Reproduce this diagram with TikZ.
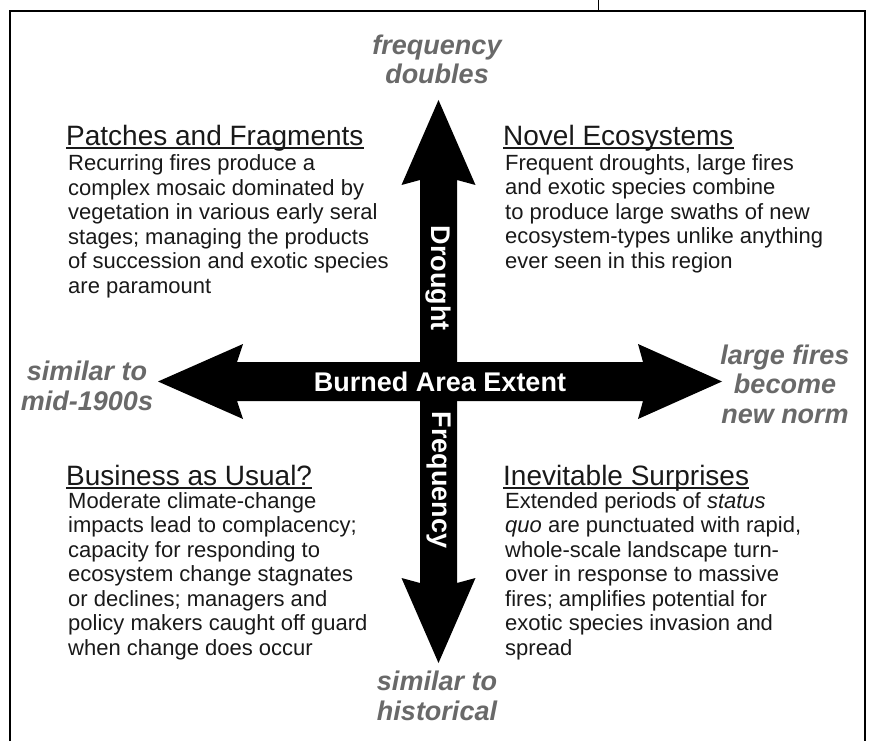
\documentclass[tikz,border=0pt]{standalone}
\usepackage{fontspec}
\setmainfont{Liberation Sans}
\definecolor{endgray}{RGB}{105,105,105}
\definecolor{bodyink}{RGB}{25,25,25}
\begin{document}
\begin{tikzpicture}[x=1pt, y=-1pt,
    endlbl/.style={font=\fontsize{27}{29.5}\selectfont\bfseries\itshape, text=endgray, align=center, inner sep=0pt, anchor=base},
    quadttl/.style={font=\fontsize{28}{30}\selectfont, text=bodyink, inner sep=0pt, anchor=base west},
    quadtxt/.style={font=\fontsize{22}{24.5}\selectfont, text=bodyink, align=left, inner sep=0pt, anchor=base west},
    axistxt/.style={font=\fontsize{27}{30}\selectfont\bfseries, text=white, inner sep=0pt}
]
    \useasboundingbox (0,0) rectangle (869,741);
    % frame
    \draw[line width=1.6pt] (10,741) -- (10,11) -- (865,11) -- (865,741);
    \draw[line width=0.9pt] (598,0) -- (598,11);
    % the two arrows
    \fill (158,381.5) -- (243,344) -- (237,362) -- (643,362) -- (638,344) -- (722,381.5)
        -- (638,419) -- (643,401) -- (237,401) -- (243,419) -- cycle;
    \fill (438.5,100) -- (475.5,185) -- (457,180) -- (457,583) -- (475.5,578) -- (438.5,663)
        -- (401.5,578) -- (420,583) -- (420,180) -- (401.5,185) -- cycle;
    \node[axistxt] (extent) at (440,382) {Burned Area Extent};
    \node[axistxt, rotate=-90] (drought) at (438.5,278) {Drought};
    \node[axistxt, rotate=-90] (freq) at (438.5,480) {Frequency};
    % ends of the axes (anchored at the baseline of the last line)
    \node[endlbl] (up) at (437,84) {frequency\\doubles};
    \node[endlbl] (left) at (87,410) {similar to\\mid-1900s};
    \node[endlbl] (right) at (785,423) {large fires\\become\\new norm};
    \node[endlbl] (down) at (437,720) {similar to\\historical};
    % quadrants (text anchored at the baseline of the last line)
    \node[quadttl] (pf) at (66,145) {Patches and Fragments};
    \node[quadtxt] (pftxt) at (68,293) {Recurring fires produce a\\complex mosaic dominated by\\vegetation in various early seral\\stages; managing the products\\of succession and exotic species\\are paramount};
    \node[quadttl] (ne) at (503,145) {Novel Ecosystems};
    \node[quadtxt] (netxt) at (505,268) {Frequent droughts, large fires\\and exotic species combine\\to produce large swaths of new\\ecosystem-types unlike anything\\ever seen in this region};
    \node[quadttl] (bu) at (66,485) {Business as Usual?};
    \node[quadtxt] (butxt) at (68,655) {Moderate climate-change\\impacts lead to complacency;\\capacity for responding to\\ecosystem change stagnates\\or declines; managers and\\policy makers caught off guard\\when change does occur};
    \node[quadttl] (is) at (503,485) {Inevitable Surprises};
    \node[quadtxt] (istxt) at (505,655) {Extended periods of \textit{status}\\\textit{quo} are punctuated with rapid,\\whole-scale landscape turn-\\over in response to massive\\fires; amplifies potential for\\exotic species invasion and\\spread};
    \foreach \q in {pf,ne,bu,is}
        \draw[line width=1.3pt, bodyink] ([yshift=-3pt]\q.base west) -- ([yshift=-3pt]\q.base east);
\end{tikzpicture}
\end{document}
